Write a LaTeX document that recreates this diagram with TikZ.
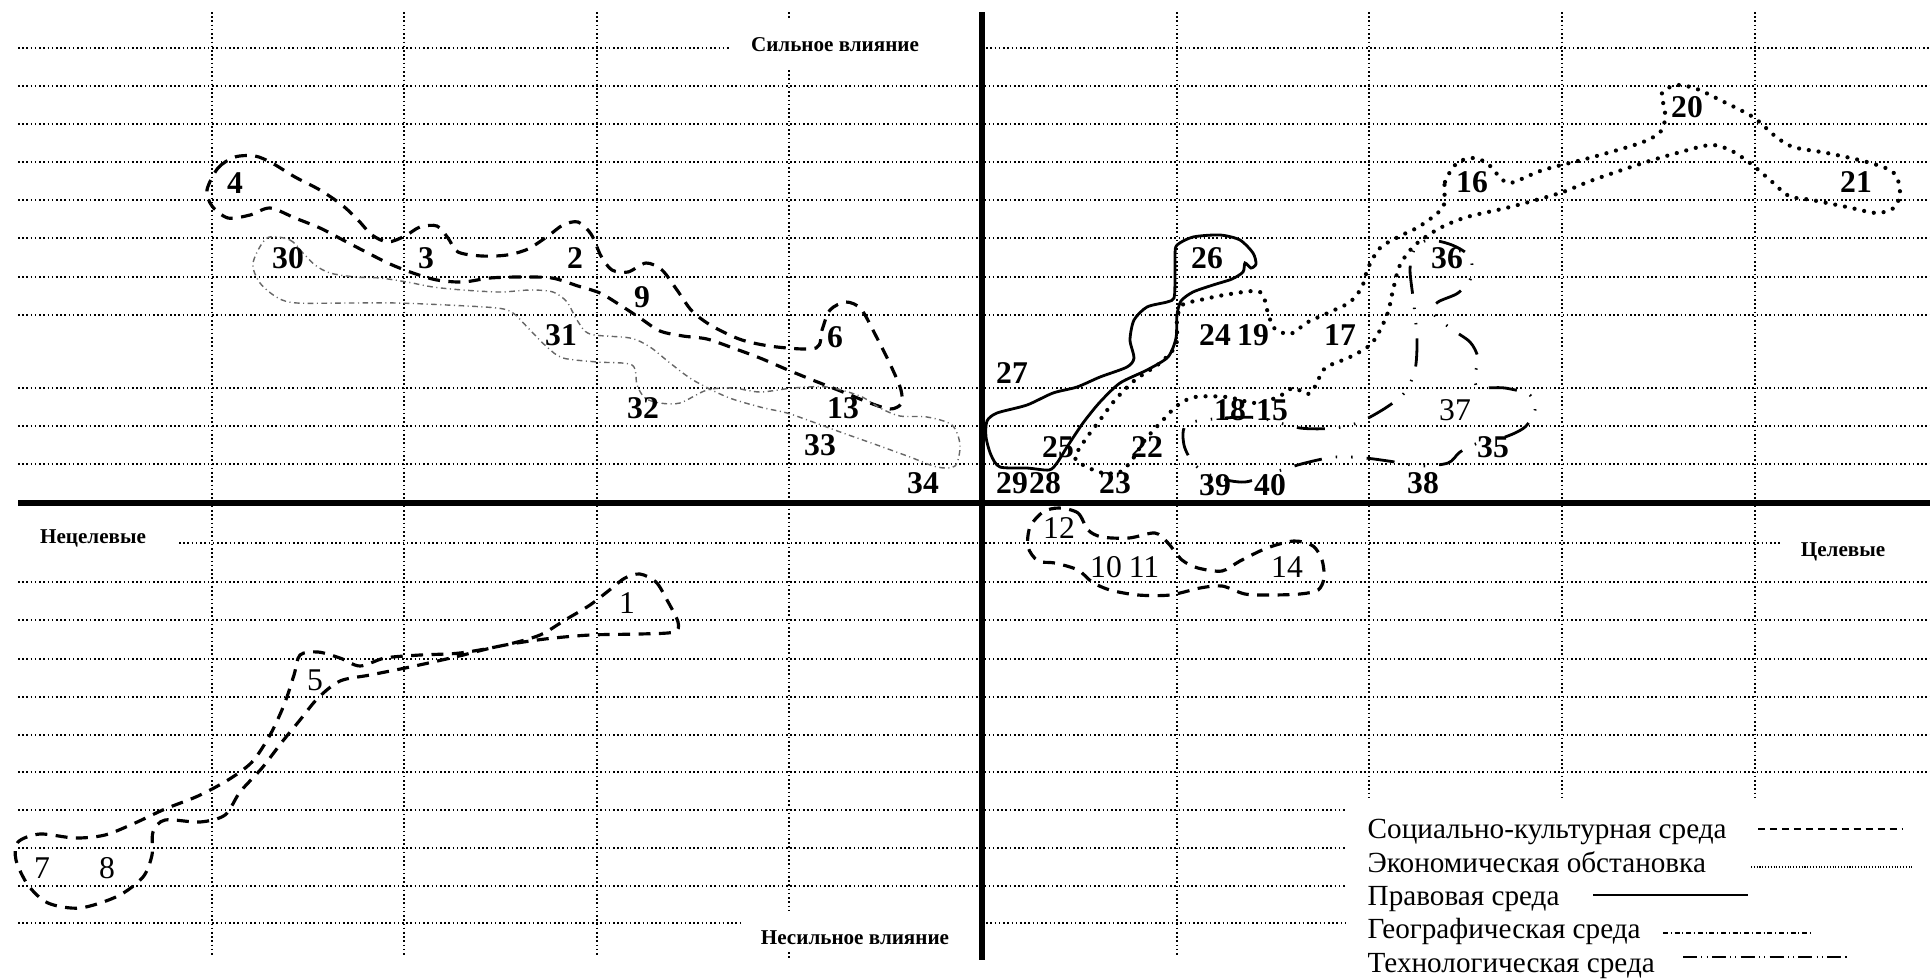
\documentclass[tikz,border=0pt]{standalone}
\usepackage{fontspec}
\setmainfont{Liberation Serif}
\usepackage{tikz}
\tikzset{
  gridline/.style={line width=0.45pt, dash pattern=on 0.45pt off 0.75pt},
  axisline/.style={line width=1.7pt},
  soc/.style={line width=0.9pt, dash pattern=on 3.4pt off 2.4pt},
  eco/.style={line width=1.2pt, line cap=round, dash pattern=on 0pt off 2.8pt},
  law/.style={line width=0.8pt},
  geo/.style={line width=0.4pt, black!60, dash pattern=on 1.6pt off 1pt on 0.3pt off 1pt},
  tech/.style={line width=0.8pt, dash pattern=on 8pt off 4pt on 0.4pt off 4pt on 0.4pt off 4pt},
  num/.style={font=\fontsize{9}{9}\selectfont\bfseries, inner sep=0pt},
  numr/.style={font=\fontsize{9}{9}\selectfont, inner sep=0pt},
  sidelbl/.style={font=\fontsize{6}{6}\selectfont\bfseries, inner sep=0pt},
  legtext/.style={font=\fontsize{8.3}{8.3}\selectfont, inner sep=0pt, anchor=base west}
}
\begin{document}
\begin{tikzpicture}[x=0.01cm, y=-0.01cm]
\useasboundingbox (0,0) rectangle (1930,978);
% grid
\foreach \y in {86,124,162,200,238,277,315,388,426,464,582,620,659,697,735,772}
  \draw[gridline] (18,\y) -- (1930,\y);
\foreach \y in {810,848,886}
  \draw[gridline] (18,\y) -- (1345,\y);
\draw[gridline] (18,48) -- (729,48) (982,48) -- (1930,48);
\draw[gridline] (179,543) -- (1782,543);
\draw[gridline] (18,923) -- (740,923) (982,923) -- (1345,923);
\foreach \x in {212,404,597,1177}
  \draw[gridline] (\x,12) -- (\x,957);
\foreach \x in {1369,1562,1755}
  \draw[gridline] (\x,12) -- (\x,798);
\draw[gridline] (789,12) -- (789,20) (789,70) -- (789,910) (789,952) -- (789,958);
% axes
\draw[axisline] (982,12) -- (982,960);
\draw[axisline] (18,503) -- (1930,503);
\node[sidelbl] (strong) at (835,45) {Сильное влияние};
\node[sidelbl] (weak) at (855,938) {Несильное влияние};
\node[sidelbl] (nontarget) at (93,538) {Нецелевые};
\node[sidelbl] (target) at (1843,552) {Целевые};

% social-cultural
\draw[soc] plot[smooth cycle, tension=0.5] coordinates {
  (207,190) (218,168) (235,157) (255,156) (272,163) (295,177) (320,190) (342,205)
  (358,220) (372,235) (388,242) (405,236) (420,227) (437,226) (448,238) (458,252)
  (482,256) (507,255) (528,249) (548,236) (563,225) (578,222) (591,234) (601,256)
  (612,270) (628,272) (646,263) (662,270) (677,290) (692,311) (712,326) (742,340)
  (777,347) (816,348) (822,330) (830,310) (846,302) (861,309) (876,336) (891,366)
  (901,390) (901,404) (890,409) (870,403) (843,392) (815,381) (788,370) (760,358)
  (733,348) (707,339) (683,336) (660,331) (640,318) (620,305) (600,293) (578,286)
  (552,278) (520,277) (490,278) (463,282) (437,280) (413,273) (390,264) (366,252)
  (343,240) (320,228) (295,218) (270,208) (250,215) (228,218) (212,206)};
\draw[soc] plot[smooth cycle, tension=0.5] coordinates {
  (640,574) (656,582) (667,600) (678,622) (674,632) (640,634) (590,635) (545,639)
  (500,646) (455,657) (410,667) (370,675) (340,681) (318,698) (300,720) (282,742)
  (262,768) (240,792) (225,815) (200,822) (165,820) (153,832) (152,855) (143,877)
  (118,896) (80,908) (48,903) (28,885) (16,860) (18,842) (40,834) (75,838)
  (105,835) (135,823) (165,809) (198,796) (228,780) (252,762) (270,735) (284,705)
  (294,675) (300,655) (318,652) (340,658) (360,666) (385,658) (420,655) (460,653)
  (505,645) (540,635) (565,620) (590,605) (612,588) (625,578)};
\draw[soc] plot[smooth cycle, tension=0.5] coordinates {
  (1059,508) (1078,513) (1088,530) (1102,537) (1129,538) (1155,533) (1168,543)
  (1182,560) (1198,568) (1222,571) (1240,561) (1267,548) (1294,541) (1313,546)
  (1322,560) (1324,578) (1318,590) (1300,594) (1270,595) (1245,594) (1222,586)
  (1200,588) (1170,595) (1138,595) (1110,590) (1092,582) (1078,570) (1055,563)
  (1038,561) (1028,547) (1030,527) (1043,512)};

% geographic
\draw[geo] plot[smooth cycle, tension=0.5] coordinates {
  (267,238) (290,240) (303,253) (315,265) (330,273) (355,277) (380,278) (407,282)
  (433,287) (463,290) (500,292) (530,290) (553,292) (567,302) (577,320) (590,334)
  (630,338) (650,347) (670,363) (693,380) (727,397) (760,407) (787,413) (813,422)
  (843,433) (877,445) (910,457) (937,467) (955,466) (960,445) (952,425) (927,417)
  (900,416) (880,408) (860,396) (827,387) (793,388) (760,392) (733,388) (707,390)
  (680,403) (660,403) (645,398) (637,385) (632,365) (597,362) (563,358) (547,347)
  (530,330) (513,313) (497,308) (447,305) (397,303) (347,303) (297,303) (278,298)
  (260,283) (253,263)};

% legal
\draw[law] plot[smooth cycle, tension=0.45] coordinates {
  (1177,245) (1193,237) (1220,235) (1240,240) (1253,253) (1256,264) (1251,268)
  (1245,263) (1243,272) (1232,279) (1213,285) (1193,292) (1181,301) (1177,315)
  (1176,338) (1168,357) (1147,370) (1120,383) (1100,402) (1083,423) (1067,447)
  (1057,463) (1049,470) (1027,468) (1000,467) (991,455) (986,437) (987,421)
  (997,413) (1027,405) (1053,393) (1077,387) (1100,377) (1127,367) (1134,358)
  (1130,340) (1134,320) (1147,307) (1167,302) (1174,298) (1175,280) (1175,255)};

% economic
\draw[eco] plot[smooth cycle, tension=0.5] coordinates {
  (1443,207) (1445,182) (1457,163) (1473,158) (1487,163) (1497,174) (1510,183)
  (1543,170) (1593,157) (1643,142) (1662,130) (1665,112) (1662,93) (1677,85)
  (1697,89) (1720,100) (1753,117) (1775,136) (1793,147) (1827,153) (1867,162)
  (1893,172) (1900,190) (1895,207) (1877,213) (1847,207) (1812,200) (1789,196)
  (1770,180) (1750,163) (1730,150) (1710,145) (1677,153) (1643,163) (1593,180)
  (1560,193) (1510,207) (1467,217) (1440,228) (1415,245) (1400,265) (1393,290)
  (1387,315) (1372,343) (1350,357) (1325,368) (1316,385) (1308,394) (1293,388)
  (1278,397) (1255,403) (1227,397) (1195,397) (1178,405) (1163,420) (1145,440)
  (1132,460) (1120,472) (1103,473) (1087,467) (1075,458) (1085,440) (1100,420)
  (1115,400) (1135,380) (1160,363) (1176,345) (1177,320) (1182,305) (1200,300)
  (1230,294) (1260,292) (1268,313) (1274,328) (1290,334) (1308,322) (1330,312)
  (1350,302) (1362,287) (1368,268) (1380,248) (1400,236) (1420,226)};

% technological
\draw[tech] plot[smooth cycle, tension=0.5] coordinates {
  (1187,424) (1225,418) (1260,418) (1300,428) (1335,428) (1360,422) (1387,407)
  (1405,392) (1415,370) (1417,340) (1414,305) (1410,270) (1414,250) (1428,240)
  (1452,245) (1470,257) (1471,278) (1458,293) (1438,302) (1432,312) (1450,328)
  (1470,342) (1478,358) (1475,375) (1478,387) (1505,388) (1530,395) (1535,410)
  (1525,427) (1505,437) (1478,443) (1460,452) (1448,463) (1420,466) (1395,462)
  (1365,458) (1335,457) (1305,463) (1275,472) (1245,482) (1215,477) (1195,465)
  (1184,445)};

% numbers
\foreach \n/\x/\y in {2/575/258, 3/426/258, 4/235/183, 6/835/337, 9/642/297,
    13/843/408, 15/1272/410, 16/1472/182, 17/1340/335, 18/1230/410, 19/1253/335,
    20/1687/107, 21/1856/182, 22/1147/447, 23/1115/483, 24/1215/335, 25/1058/447,
    26/1207/258, 27/1012/373, 28/1045/483, 29/1012/483, 30/288/258, 31/561/335,
    32/643/408, 33/820/445, 34/923/483, 35/1493/447, 36/1447/258, 38/1423/483,
    39/1215/485, 40/1270/485}
  \node[num] (n\n) at (\x,\y) {\n};
\foreach \n/\x/\y in {1/627/603, 5/315/680, 7/42/868, 8/107/868, 10/1106/567,
    11/1144/567, 12/1059/528, 14/1287/567, 37/1455/410}
  \node[numr] (n\n) at (\x,\y) {\n};

% legend
\node[legtext] (lsoc) at (1367,838) {Социально-культурная среда};
\node[legtext] (leco) at (1367,872) {Экономическая обстановка};
\node[legtext] (llaw) at (1367,905) {Правовая среда};
\node[legtext] (lgeo) at (1367,938) {Географическая среда};
\node[legtext] (ltech) at (1367,972) {Технологическая среда};
\draw[line width=0.35pt, dash pattern=on 2pt off 1.4pt] (1758,829) -- (1903,829);
\draw[line width=0.35pt, dash pattern=on 0.3pt off 0.5pt] (1751,867) -- (1914,867);
\draw[line width=0.5pt] (1593,895) -- (1748,895);
\draw[line width=0.35pt, dash pattern=on 1.4pt off 0.8pt on 0.3pt off 0.8pt] (1663,933) -- (1812,933);
\draw[line width=0.5pt, dash pattern=on 4pt off 1.2pt on 0.3pt off 1.2pt on 0.3pt off 1.2pt] (1683,957) -- (1850,957);
\end{tikzpicture}
\end{document}
